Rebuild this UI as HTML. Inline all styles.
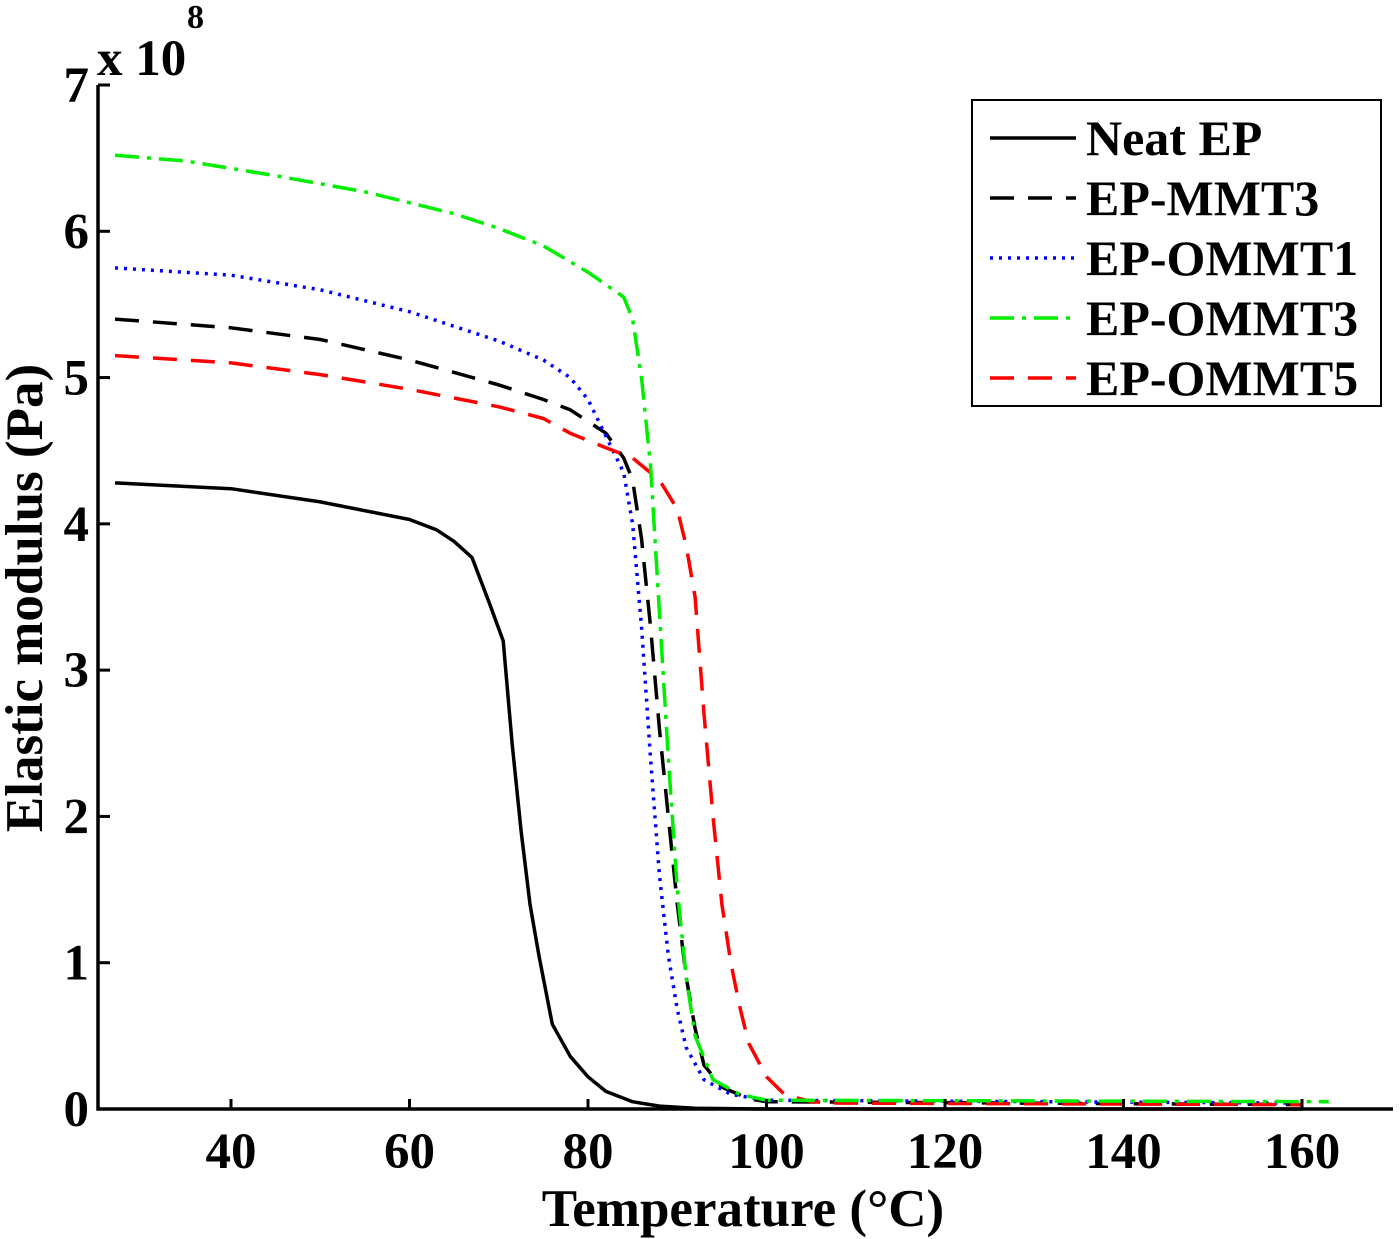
<!DOCTYPE html>
<html><head><meta charset="utf-8"><style>
body{margin:0;background:#fff}
svg{display:block;font-family:"Liberation Serif",serif;font-weight:bold}
</style></head><body>
<svg width="1400" height="1239" viewBox="0 0 1400 1239">
<g id="plot"></g>
<g id="axes"></g>
<g id="legend"></g>
</svg>
<script>
const xTicks=[40,60,80,100,120,140,160];
const yTicks=[0,1,2,3,4,5,6,7];
const seriesNames=["Neat EP","EP-MMT3","EP-OMMT1","EP-OMMT3","EP-OMMT5"];
const neatT=[27,40,50,60,63,65,67,69,70.5,71.5,72.5,73.5,74.5,76,78,80,82,85,88,92,100,160];
const neatE=[4.28,4.24,4.15,4.03,3.96,3.88,3.77,3.45,3.2,2.5,1.9,1.4,1.05,0.58,0.36,0.22,0.12,0.05,0.02,0.005,0,0];
const mmt3T=[27,40,50,60,70,75,78,80,82,84,85,86,87,88,89,90,91,92,93,95,98,100,160];
const mmt3E=[5.4,5.34,5.26,5.12,4.95,4.85,4.78,4.7,4.62,4.45,4.3,3.9,3.3,2.6,2.0,1.4,0.9,0.55,0.3,0.15,0.07,0.05,0.03];
const o1T=[27,40,50,60,70,75,78,80,82,84,85,86,87,88,89,90,91,93,96,100,160];
const o1E=[5.75,5.7,5.6,5.45,5.25,5.12,5.0,4.85,4.6,4.35,4.0,3.3,2.4,1.6,1.05,0.68,0.42,0.2,0.1,0.06,0.04];
const o3T=[27,35,45,55,65,70,75,80,84,85,86,87,88,89,90,91,92,94,97,100,163];
const o3E=[6.52,6.48,6.38,6.27,6.12,6.02,5.9,5.72,5.55,5.4,5.0,4.4,3.4,2.4,1.5,0.9,0.5,0.2,0.1,0.06,0.05];
const o5T=[27,40,50,60,70,75,78,82,85,88,90,91,92,93,94,95,96,97,98,100,102,105,108,160];
const o5E=[5.15,5.1,5.02,4.92,4.8,4.72,4.62,4.52,4.45,4.3,4.1,3.85,3.5,2.7,2.0,1.4,1.0,0.7,0.45,0.22,0.1,0.05,0.04,0.03];

const NS="http://www.w3.org/2000/svg";
const X0=98,X1=1393,Y0=1109,Y1=85;
const xs=v=>231+(v-40)*(1071/120);
const ys=v=>Y0-(v/7)*(Y0-Y1);
function mk(tag,attrs,parent,text){const e=document.createElementNS(NS,tag);for(const k in attrs)e.setAttribute(k,attrs[k]);if(text!==undefined)e.textContent=text;parent.appendChild(e);return e;}
const plot=document.getElementById('plot'),axes=document.getElementById('axes'),legend=document.getElementById('legend');
const styles=[
 {c:"#000",d:"",w:3.5},{c:"#000",d:"24 14",w:3.5},{c:"#0000ff",d:"3 6",w:3.5},{c:"#00ee00",d:"24 8 4 8",w:3.5},{c:"#ff0000",d:"24 14",w:3.5}];
const data=[[neatT,neatE],[mmt3T,mmt3E],[o1T,o1E],[o3T,o3E],[o5T,o5E]];
const order=[0,1,2,4,3];
order.forEach(i=>{
 const [T,E]=data[i];
 const d=T.map((t,j)=>(j?'L':'M')+xs(t).toFixed(1)+' '+ys(E[j]).toFixed(1)).join(' ');
 const p=mk('path',{d:d,fill:'none',stroke:styles[i].c,'stroke-width':styles[i].w,'stroke-dasharray':styles[i].d,'stroke-linejoin':'round'},plot);
 
 
});
mk('path',{d:`M${X0} ${Y1} L${X0} ${Y0} L${X1} ${Y0}`,fill:'none',stroke:'#000','stroke-width':3.5},axes);
xTicks.forEach(t=>{
 mk('line',{x1:xs(t),x2:xs(t),y1:Y0,y2:Y0-10,stroke:'#000','stroke-width':3},axes);
 const tx=mk('text',{x:xs(t),y:1168,'font-size':51,'text-anchor':'middle'},axes,String(t));
 
 
});
yTicks.forEach(t=>{
 mk('line',{x1:X0,x2:X0+12,y1:ys(t),y2:ys(t),stroke:'#000','stroke-width':3},axes);
 const tx=mk('text',{x:89,y:ys(t)+17,'font-size':51,'text-anchor':'end'},axes,String(t));
 
 
});
const xt=mk('text',{x:743,y:1226,'font-size':53,'text-anchor':'middle'},axes,'Temperature (°C)');


const yt=mk('text',{x:0,y:0,'font-size':53,'text-anchor':'middle',transform:'translate(42,598) rotate(-90)'},axes,'Elastic modulus (Pa)');


const ex=mk('text',{x:97,y:75,'font-size':51},axes,'x 10');


const e8=mk('text',{x:187,y:28,'font-size':34},axes,'8');


const box=mk('rect',{x:972,y:100,width:409,height:306,fill:'#fff',stroke:'#000','stroke-width':2},legend);


seriesNames.forEach((n,i)=>{
 const y=138+i*60;
 const g=mk('g',{},legend);
 
 
 mk('line',{x1:990,x2:1076,y1:y,y2:y,stroke:styles[i].c,'stroke-width':3.5,'stroke-dasharray':styles[i].d},g);
 mk('text',{x:1086,y:y+17,'font-size':50},g,n);
});
</script>
</body></html>
